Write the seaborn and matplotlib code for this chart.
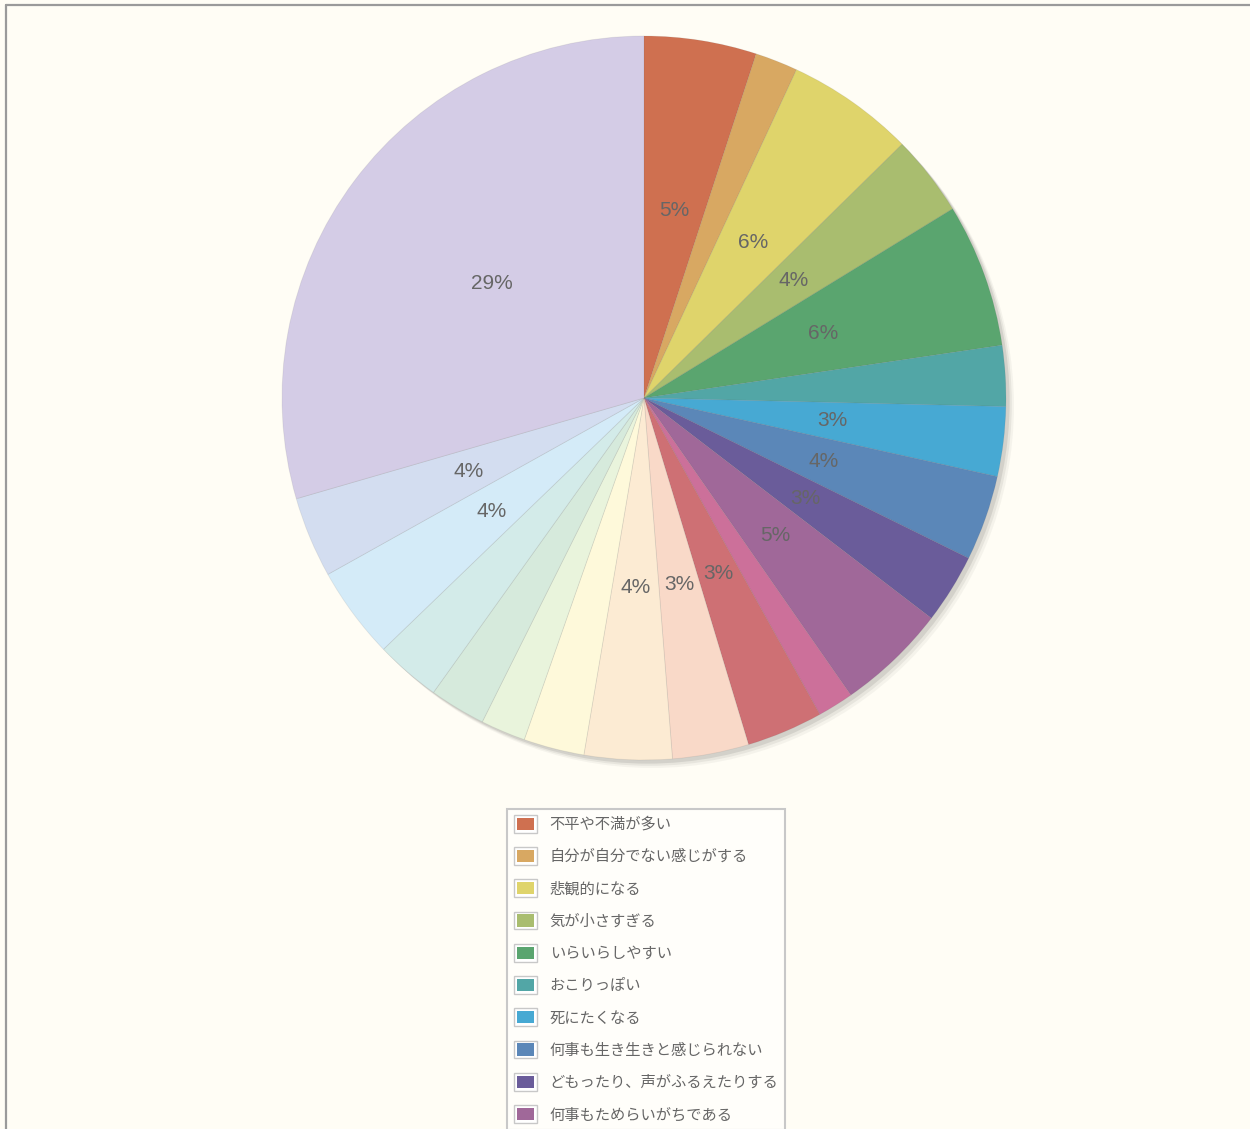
import matplotlib
matplotlib.use('Agg')
import matplotlib.pyplot as plt
import seaborn as sns
from matplotlib.legend_handler import HandlerBase
from matplotlib.lines import Line2D
from matplotlib.patches import Patch, Rectangle

# Slice shares (%), clockwise from 12 o'clock
shares = [5.0, 1.9, 5.7, 3.6, 6.4, 2.7, 3.1, 3.8, 3.1, 4.9, 1.6,
          3.4, 3.4, 3.9, 2.7, 2.0, 2.5, 2.9, 4.1, 3.6, 29.4]
slice_colors = ['#CF7050', '#D8A862', '#DFD46B', '#A9BD6F', '#5AA56F', '#52A6A6',
                '#47A9D3', '#5B87B8', '#6A5C9A', '#A06899', '#CC709A', '#CE7074',
                '#F9D9C8', '#FCEBD3', '#FEF9DA', '#E9F4DC', '#D6EADC', '#D3EBE9',
                '#D4EBF8', '#D3DDF0', '#D4CCE6']
# only the first ten legend entries are visible in the chart
legend_labels = ['不平や不満が多い', '自分が自分でない感じがする', '悲観的になる', '気が小さすぎる',
                 'いらいらしやすい', 'おこりっぽい', '死にたくなる', '何事も生き生きと感じられない',
                 'どもったり、声がふるえたりする', '何事もためらいがちである']

sns.set_theme(style='white')
plt.rcParams['font.family'] = ['Noto Sans CJK JP', 'DejaVu Sans']

BG = '#FFFDF5'
W, H = 1250, 1129
cx, cy, r = 644, 398, 362
pad = 1.1


class FramedSwatch(HandlerBase):
    # colour square inside a thin grey frame with a white gap
    def create_artists(self, legend, orig_handle, xdescent, ydescent,
                       width, height, fontsize, trans):
        w_box, h_box = 1.0 * width, 1.3 * height
        x0 = -xdescent + (width - w_box) / 2
        y0 = -ydescent + (height - h_box) / 2
        outer = Rectangle((x0, y0), w_box, h_box, facecolor='white',
                          edgecolor='#c8c8c8', linewidth=1, transform=trans)
        g = 2.0
        inner = Rectangle((x0 + g, y0 + g), w_box - 2 * g, h_box - 2 * g,
                          facecolor=orig_handle.get_facecolor(), linewidth=0, transform=trans)
        return [outer, inner]


fig = plt.figure(figsize=(W / 100, H / 100), dpi=100, facecolor=BG)
ax = fig.add_axes([(cx - pad * r) / W, 1 - (cy + pad * r) / H, 2 * pad * r / W, 2 * pad * r / H])
ax.set_facecolor('none')

# soft drop shadow (lower right)
for off, a in [(0.022, 0.05), (0.016, 0.08), (0.010, 0.12)]:
    ax.pie([1], colors=['#444444'], radius=1.0, center=(off, -off),
           wedgeprops=dict(linewidth=0, alpha=a))

wedges, texts, autotexts = ax.pie(
    shares, colors=slice_colors, startangle=90, counterclock=False,
    autopct=lambda p: f'{p:.0f}%' if p >= 3 else '', pctdistance=0.525,
    wedgeprops=dict(linewidth=0.6, edgecolor=(0.4, 0.4, 0.4, 0.12)),
    textprops=dict(color='#666666', fontsize=15, family='Liberation Sans'))
ax.set_xlim(-pad, pad)
ax.set_ylim(-pad, pad)
ax.axis('off')

# Legend
handles = [Patch(facecolor=c) for c in slice_colors[:len(legend_labels)]]
leg = fig.legend(handles, legend_labels, handler_map={Patch: FramedSwatch()},
                 loc='upper left', bbox_to_anchor=(507 / W, 1 - 809 / H), borderaxespad=0,
                 fontsize=11, labelcolor='#666666', frameon=True, fancybox=False,
                 borderpad=0.45, handlelength=1.5, handleheight=1.0, handletextpad=0.85,
                 labelspacing=1.0)
leg.get_frame().set_edgecolor('#c8c8c8')
leg.get_frame().set_linewidth(1.5)
leg.get_frame().set_facecolor('#FFFEFA')
leg.get_frame().set_alpha(1)

# outer frame (left and top edge)
fig.add_artist(Line2D([6 / W, 6 / W], [0, 1 - 5 / H], transform=fig.transFigure,
                      color='#9a9a9a', linewidth=1.6))
fig.add_artist(Line2D([6 / W, 1], [1 - 5 / H, 1 - 5 / H], transform=fig.transFigure,
                      color='#9a9a9a', linewidth=1.6))

fig.savefig('out.png', dpi=100, facecolor=BG)
